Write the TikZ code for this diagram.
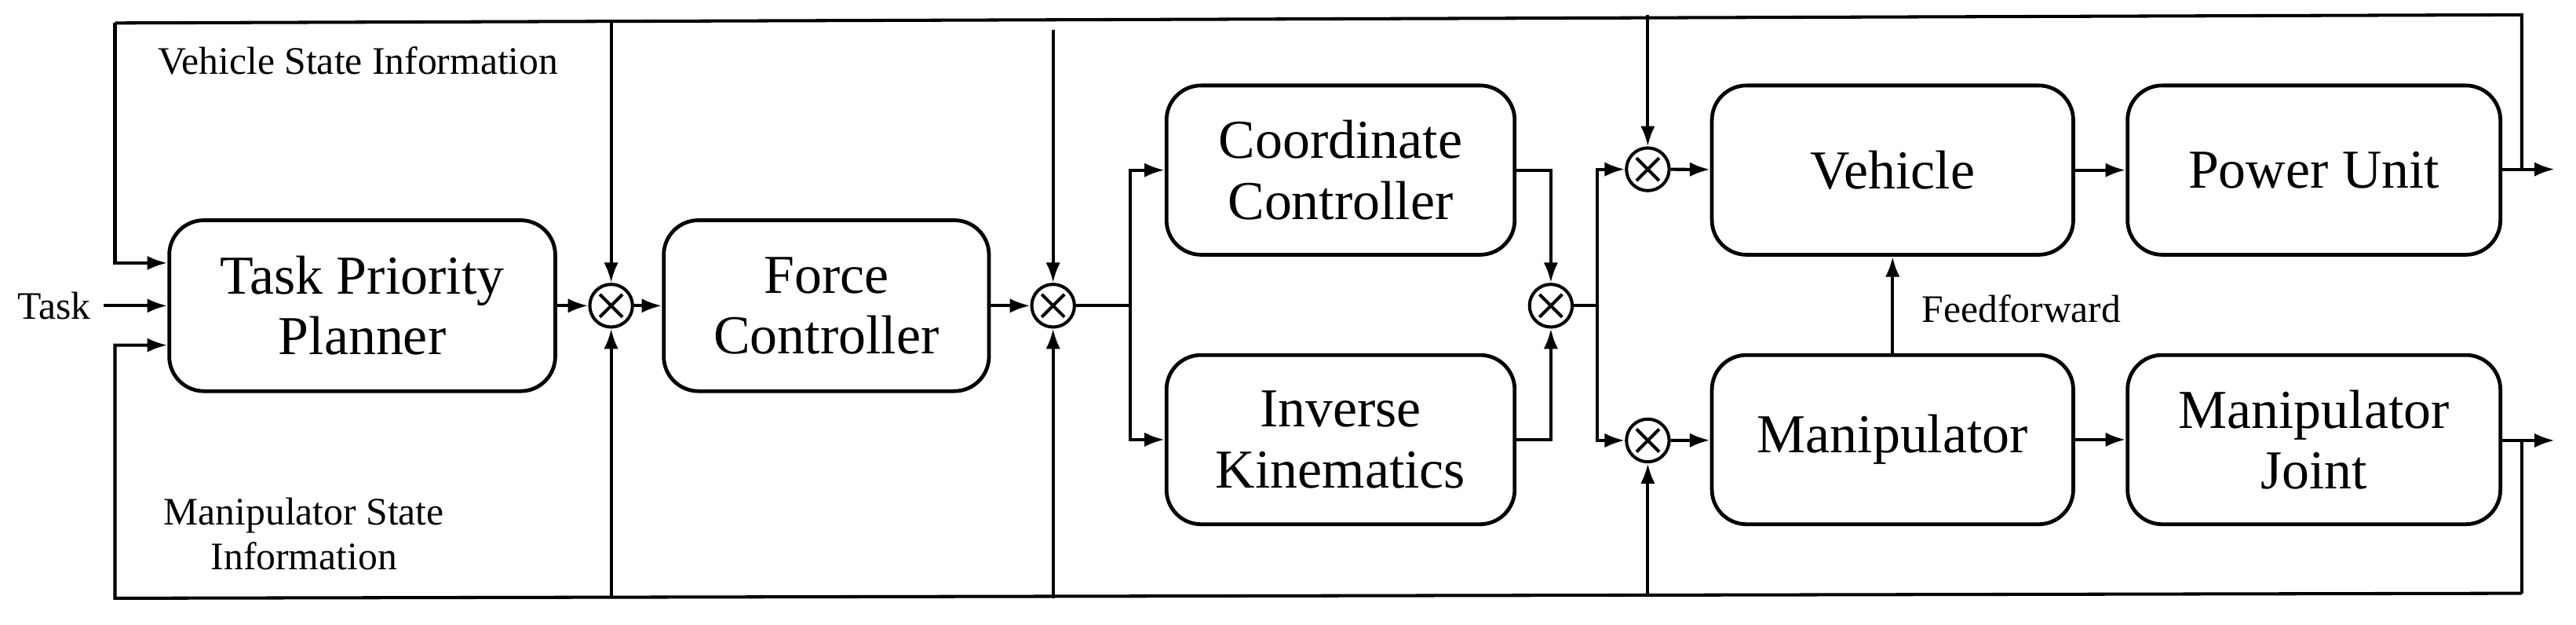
\documentclass[tikz,border=0pt]{standalone}
\usepackage{fontspec}
\setmainfont{Liberation Serif}
\usetikzlibrary{arrows.meta,calc}
\begin{document}
\begin{tikzpicture}[x=0.02cm,y=-0.02cm,line width=1.1pt,
  blk/.style={draw,rounded corners=12pt,line width=1.3pt,align=center,font=\fontsize{19}{21}\selectfont,inner sep=0pt},
  sc/.style={draw,circle,line width=1.1pt,minimum size=0.52cm,inner sep=0pt},
  lbl/.style={font=\fontsize{13.5}{15.5}\selectfont,align=center},
  ar/.style={-{Latex[length=7pt,width=5pt]}}]
\useasboundingbox (0,0) rectangle (1568,380);
% blocks
\node[blk,minimum width=4.7cm,minimum height=2.08cm] (tpp) at (220.5,186) {Task Priority\\Planner};
\node[blk,minimum width=3.96cm,minimum height=2.08cm] (fc) at (503,186) {Force\\Controller};
\node[blk,minimum width=4.24cm,minimum height=2.06cm] (cc) at (816,103.5) {Coordinate\\Controller};
\node[blk,minimum width=4.24cm,minimum height=2.06cm] (ik) at (816,267.5) {Inverse\\Kinematics};
\node[blk,minimum width=4.4cm,minimum height=2.06cm] (veh) at (1152,103.5) {Vehicle};
\node[blk,minimum width=4.54cm,minimum height=2.06cm] (pu) at (1408.5,103.5) {Power Unit};
\node[blk,minimum width=4.4cm,minimum height=2.06cm] (man) at (1152,267.5) {Manipulator};
\node[blk,minimum width=4.54cm,minimum height=2.06cm] (mj) at (1408.5,267.5) {Manipulator\\Joint};
% summing junctions
\foreach \n/\x/\y in {s1/372/186,s2/641/186,s3/944/186,s4/1003/103,s5/1003/268}{
  \node[sc] (\n) at (\x,\y) {};
  \draw ($(\n.north west)!0.15!(\n.south east)$) -- ($(\n.south east)!0.15!(\n.north west)$);
  \draw ($(\n.north east)!0.15!(\n.south west)$) -- ($(\n.south west)!0.15!(\n.north east)$);
}
% coordinates
\coordinate (tl) at (70,14); \coordinate (tr) at (1535,9);
\coordinate (bl) at (70,364); \coordinate (br) at (1535,361);
\coordinate (task) at (63,186);
\coordinate (s2top) at (641,18);
\coordinate (o1) at (1555,103); \coordinate (o2) at (1555,268);
\coordinate (sp1) at (688,186); \coordinate (sp2) at (972,186);
% text
\node[lbl,anchor=east] (tasklbl) at (62,186) {Task};
\node[lbl] (vsi) at (218,37) {Vehicle State Information};
\node[lbl] (msi) at (185,325) {Manipulator State\\Information};
\node[lbl,anchor=west] (ffl) at (1163,188) {Feedforward};
% feedback loops
\draw (br) |- (mj.east |- 0,268);
\draw[ar] (mj.east |- 0,268) -- (o2);
\draw[ar] (pu.east |- 0,103) -- (o1);
\draw (tr |- 0,103) -- (tr) -- (tl);
\draw[ar] (tl) |- (tpp.west |- 0,160);
\draw[ar] (task) -- (tpp.west |- task);
\draw[ar] (br) -- (bl) |- (tpp.west |- 0,210);
\draw[ar] (372,13) -- (s1);
\draw[ar] (372,364) -- (s1);
\draw[ar] (s2top) -- (s2);
\draw[ar] (641,364) -- (s2);
\draw[ar] (1003,9) -- (s4);
\draw[ar] (1003,362) -- (s5);
% forward path
\draw[ar] (tpp) -- (s1);
\draw[ar] (s1) -- (fc);
\draw[ar] (fc) -- (s2);
\draw (s2) -- (sp1);
\draw[ar] (sp1) |- (cc.west);
\draw[ar] (sp1) |- (ik.west);
\draw[ar] (cc.east) -| (s3);
\draw[ar] (ik.east) -| (s3);
\draw (s3) -- (sp2);
\draw[ar] (sp2) |- (s4);
\draw[ar] (sp2) |- (s5);
\draw[ar] (s4) -- (veh);
\draw[ar] (s5) -- (man);
\draw[ar] (veh) -- (pu);
\draw[ar] (man) -- (mj);
\draw[ar] (man) -- (veh);
\end{tikzpicture}
\end{document}
